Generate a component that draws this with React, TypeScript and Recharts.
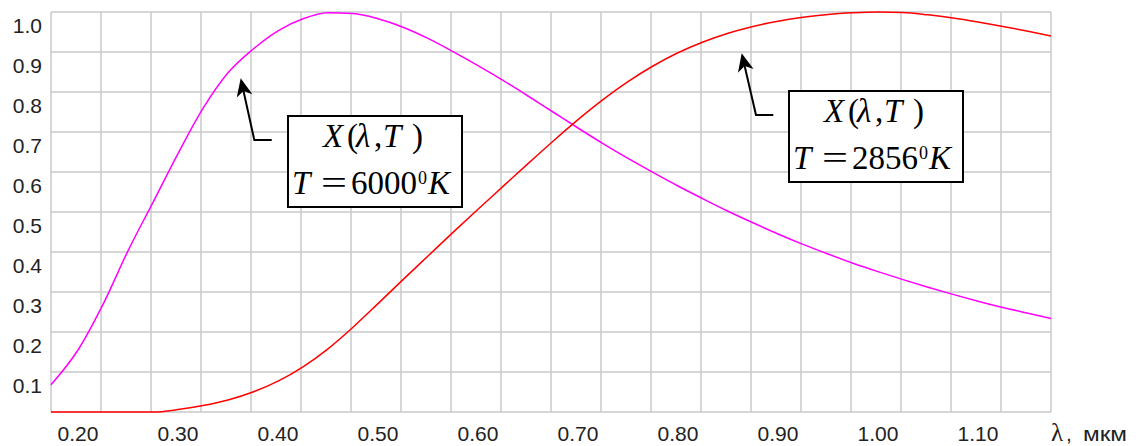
import React from 'react';
import { LineChart, Line, XAxis, YAxis, CartesianGrid } from 'recharts';

// wavelength, мкм
const lambdas = [
  0.173, 0.2, 0.225, 0.25, 0.275, 0.3, 0.325, 0.35, 0.375, 0.4, 0.425, 0.45, 0.475, 0.5,
  0.525, 0.55, 0.575, 0.6, 0.625, 0.65, 0.675, 0.7, 0.725, 0.75, 0.775, 0.8, 0.825, 0.85,
  0.875, 0.9, 0.925, 0.95, 0.975, 1.0, 1.025, 1.05, 1.075, 1.1, 1.125, 1.15, 1.173,
];

// X(λ,T), T = 6000 K
const x6000 = [
  0.068, 0.155, 0.269, 0.403, 0.524, 0.646, 0.759, 0.848, 0.907, 0.953, 0.983, 0.998, 0.996, 0.983,
  0.962, 0.934, 0.901, 0.866, 0.829, 0.79, 0.75, 0.71, 0.671, 0.634, 0.599, 0.565, 0.533, 0.502,
  0.473, 0.445, 0.419, 0.395, 0.372, 0.351, 0.331, 0.312, 0.294, 0.277, 0.261, 0.247, 0.234,
];

// X(λ,T), T = 2856 K
const x2856 = [
  0, 0, 0, 0, 0, 0.006, 0.016, 0.03, 0.05, 0.077, 0.113, 0.158, 0.212, 0.271,
  0.331, 0.39, 0.449, 0.507, 0.564, 0.621, 0.677, 0.731, 0.781, 0.826, 0.865, 0.898, 0.925, 0.947,
  0.964, 0.977, 0.987, 0.994, 0.998, 1.0, 0.999, 0.993, 0.985, 0.975, 0.964, 0.952, 0.94,
];

const xTicks = [0.2, 0.3, 0.4, 0.5, 0.6, 0.7, 0.8, 0.9, 1.0, 1.1];
const yTicks = [0, 0.1, 0.2, 0.3, 0.4, 0.5, 0.6, 0.7, 0.8, 0.9, 1.0];
const xDomain = [0.173, 1.173];
// grid cells are 0.05 wide, starting at the left edge
const gridLambdas = Array.from({ length: 21 }, (_, i) => +(xDomain[0] + i * 0.05).toFixed(3));

const data = lambdas.map((l, i) => ({ l, t6000: x6000[i], t2856: x2856[i] }));

const labelFont = "'Liberation Sans', Arial, sans-serif";
const mathFont = "'Liberation Serif', 'Times New Roman', serif";

const XTick = ({ x, y, payload }: any) => (
  <text x={x} y={y + 29} textAnchor="middle" fontFamily={labelFont} fontSize={21} fill="#222">
    {payload.value.toFixed(2)}
  </text>
);

// labels sit just under their grid line, no label for zero
const YTick = ({ x, y, payload }: any) =>
  payload.value === 0 ? null : (
    <text x={x - 9} y={y + 21} textAnchor="end" fontFamily={labelFont} fontSize={21} fill="#222">
      {payload.value.toFixed(1)}
    </text>
  );

function Arrow({ tip, corner, tail }: { tip: number[]; corner: number[]; tail: number }) {
  const dx = corner[0] - tip[0];
  const dy = corner[1] - tip[1];
  const len = Math.hypot(dx, dy);
  const ux = dx / len, uy = dy / len;
  const px = uy, py = -ux;
  const bx = tip[0] + ux * 18, by = tip[1] + uy * 18;
  const nx = tip[0] + ux * 13, ny = tip[1] + uy * 13;
  return (
    <g>
      <polyline points={`${tail},${corner[1]} ${corner[0]},${corner[1]} ${nx},${ny}`} fill="none" stroke="#000" strokeWidth={2} />
      <polygon
        points={`${tip[0]},${tip[1]} ${bx - px * 8},${by - py * 8} ${nx},${ny} ${bx + px * 8},${by + py * 8}`}
        fill="#000"
      />
    </g>
  );
}

function Note({ left, top, temp }: { left: number; top: number; temp: string }) {
  const b1 = top + 31;
  const b2 = top + 78;
  return (
    <g fontFamily={mathFont} fontSize={33} fill="#000">
      <rect x={left} y={top} width={174} height={91} fill="#fff" stroke="#000" strokeWidth={2} />
      <text x={left + 35} y={b1} fontStyle="italic">X</text>
      <text x={left + 59} y={b1}>(</text>
      <text x={left + 68} y={b1} fontStyle="italic">λ</text>
      <text x={left + 86} y={b1}>,</text>
      <text x={left + 95} y={b1} fontStyle="italic">T</text>
      <text x={left + 124} y={b1}>)</text>
      <text x={left + 4} y={b2} fontStyle="italic">T</text>
      <text x={left + 33} y={b2} textLength={26} lengthAdjust="spacingAndGlyphs">=</text>
      <text x={left + 63} y={b2} textLength={66} lengthAdjust="spacingAndGlyphs">{temp}</text>
      <text x={left + 130} y={top + 68} fontSize={18}>0</text>
      <text x={left + 140} y={b2} fontStyle="italic">K</text>
    </g>
  );
}

export default function App() {
  return (
    <div style={{ position: 'absolute', left: 0, top: 0, width: 1136, height: 446, background: '#fff' }}>
      <LineChart width={1136} height={446} data={data} margin={{ top: 12, right: 85, bottom: 0, left: 0 }}>
        <CartesianGrid xAxisId="grid" stroke="#c8c8c8" strokeWidth={1.5} />
        <XAxis xAxisId="grid" type="number" dataKey="l" domain={xDomain} ticks={gridLambdas} interval={0} hide />
        <XAxis
          type="number"
          dataKey="l"
          domain={xDomain}
          ticks={xTicks}
          interval={0}
          tick={<XTick />}
          tickLine={false}
          axisLine={false}
          tickSize={0}
          tickMargin={0}
          height={34}
        />
        <YAxis
          type="number"
          domain={[0, 1]}
          ticks={yTicks}
          interval={0}
          tick={<YTick />}
          tickLine={false}
          axisLine={false}
          tickSize={0}
          tickMargin={0}
          width={51}
        />
        <Line type="monotone" dataKey="t6000" stroke="#ff00ff" strokeWidth={1.5} dot={false} isAnimationActive={false} />
        <Line type="monotone" dataKey="t2856" stroke="#ff0000" strokeWidth={1.5} dot={false} isAnimationActive={false} />
      </LineChart>
      <svg width={1136} height={446} style={{ position: 'absolute', left: 0, top: 0, pointerEvents: 'none' }}>
        <Arrow tip={[240.7, 78.3]} corner={[254.3, 140]} tail={271.7} />
        <Note left={288} top={116} temp="6000" />
        <Arrow tip={[741.7, 53.3]} corner={[756, 115]} tail={773.3} />
        <Note left={789} top={91} temp="2856" />
        <text x={1051} y={441} fontFamily={mathFont} fontSize={25} fill="#222">λ</text>
        <text x={1066} y={441} fontFamily={labelFont} fontSize={21} fill="#222">,</text>
        <text x={1083} y={441} fontFamily={labelFont} fontSize={21} fill="#222" textLength={44} lengthAdjust="spacingAndGlyphs">мкм</text>
      </svg>
    </div>
  );
}
